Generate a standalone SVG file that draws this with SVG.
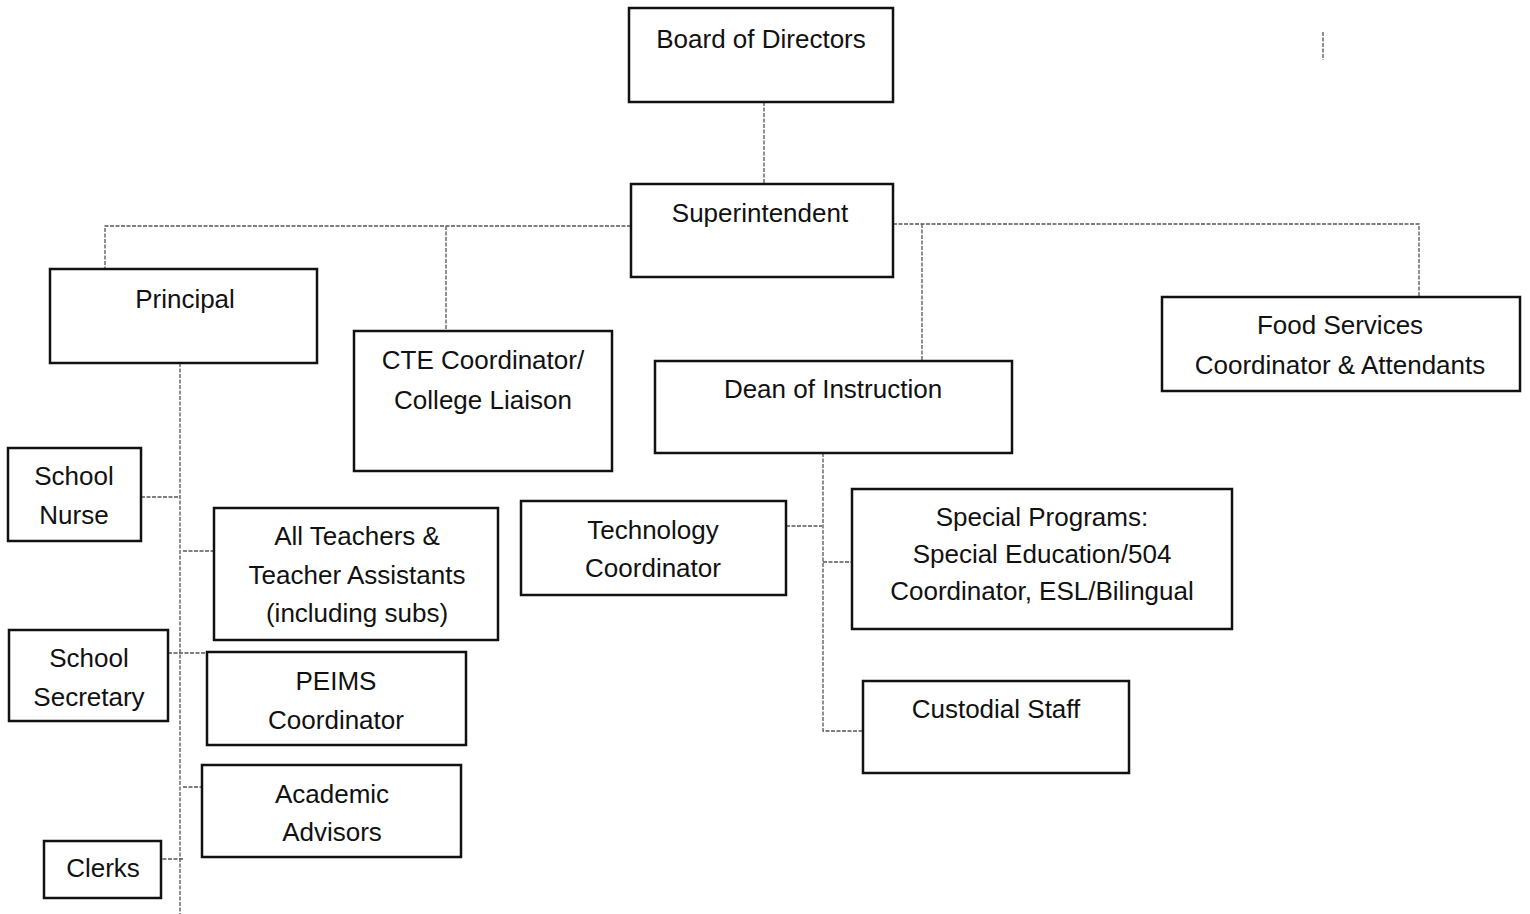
<svg xmlns="http://www.w3.org/2000/svg" width="1530" height="914" viewBox="0 0 1530 914">
<style>
.box{fill:#fff;stroke:#111;stroke-width:2.5}
.t{font-family:"Liberation Sans",Arial,sans-serif;font-size:26px;fill:#111;text-anchor:middle}
.c{fill:none;stroke:#555;stroke-width:1.3;stroke-dasharray:4 1.5}
</style>
<rect width="1530" height="914" fill="#fff"/>
<g id="connectors">
<path class="c" d="M764 102V184"/>
<path class="c" d="M631 226H105V269M446 226V331"/>
<path class="c" d="M893 224H1419V297M922 224V361"/>
<path class="c" d="M180 363V914"/>
<path class="c" d="M141 497H180M183 551H214M168 653H207M183 787H202M157 859H183"/>
<path class="c" d="M823 453V731H863M786 526H822M823 562H852"/>
<path class="c" d="M1323 32V60"/>
</g>
<g id="board"><rect class="box" x="629" y="8" width="264" height="94"/><text class="t" x="761" y="48">Board of Directors</text></g>
<g id="superintendent"><rect class="box" x="631" y="184" width="262" height="93"/><text class="t" x="760" y="222">Superintendent</text></g>
<g id="principal"><rect class="box" x="50" y="269" width="267" height="94"/><text class="t" x="185" y="308">Principal</text></g>
<g id="cte"><rect class="box" x="354" y="331" width="258" height="140"/><text class="t" x="483" y="369">CTE Coordinator/</text><text class="t" x="483" y="409">College Liaison</text></g>
<g id="dean"><rect class="box" x="655" y="361" width="357" height="92"/><text class="t" x="833" y="398">Dean of Instruction</text></g>
<g id="food"><rect class="box" x="1162" y="297" width="358" height="94"/><text class="t" x="1340" y="334">Food Services</text><text class="t" x="1340" y="374">Coordinator &amp; Attendants</text></g>
<g id="nurse"><rect class="box" x="8" y="448" width="133" height="93"/><text class="t" x="74" y="485">School</text><text class="t" x="74" y="524">Nurse</text></g>
<g id="teachers"><rect class="box" x="214" y="508" width="284" height="132"/><text class="t" x="357" y="545">All Teachers &amp;</text><text class="t" x="357" y="584">Teacher Assistants</text><text class="t" x="357" y="622">(including subs)</text></g>
<g id="secretary"><rect class="box" x="9" y="630" width="159" height="91"/><text class="t" x="89" y="667">School</text><text class="t" x="89" y="706">Secretary</text></g>
<g id="peims"><rect class="box" x="207" y="652" width="259" height="93"/><text class="t" x="336" y="690">PEIMS</text><text class="t" x="336" y="729">Coordinator</text></g>
<g id="advisors"><rect class="box" x="202" y="765" width="259" height="92"/><text class="t" x="332" y="803">Academic</text><text class="t" x="332" y="841">Advisors</text></g>
<g id="clerks"><rect class="box" x="44" y="841" width="117" height="57"/><text class="t" x="103" y="877">Clerks</text></g>
<g id="technology"><rect class="box" x="521" y="501" width="265" height="94"/><text class="t" x="653" y="539">Technology</text><text class="t" x="653" y="577">Coordinator</text></g>
<g id="special"><rect class="box" x="852" y="489" width="380" height="140"/><text class="t" x="1042" y="526">Special Programs:</text><text class="t" x="1042" y="563">Special Education/504</text><text class="t" x="1042" y="600">Coordinator, ESL/Bilingual</text></g>
<g id="custodial"><rect class="box" x="863" y="681" width="266" height="92"/><text class="t" x="996" y="718">Custodial Staff</text></g>
</svg>
